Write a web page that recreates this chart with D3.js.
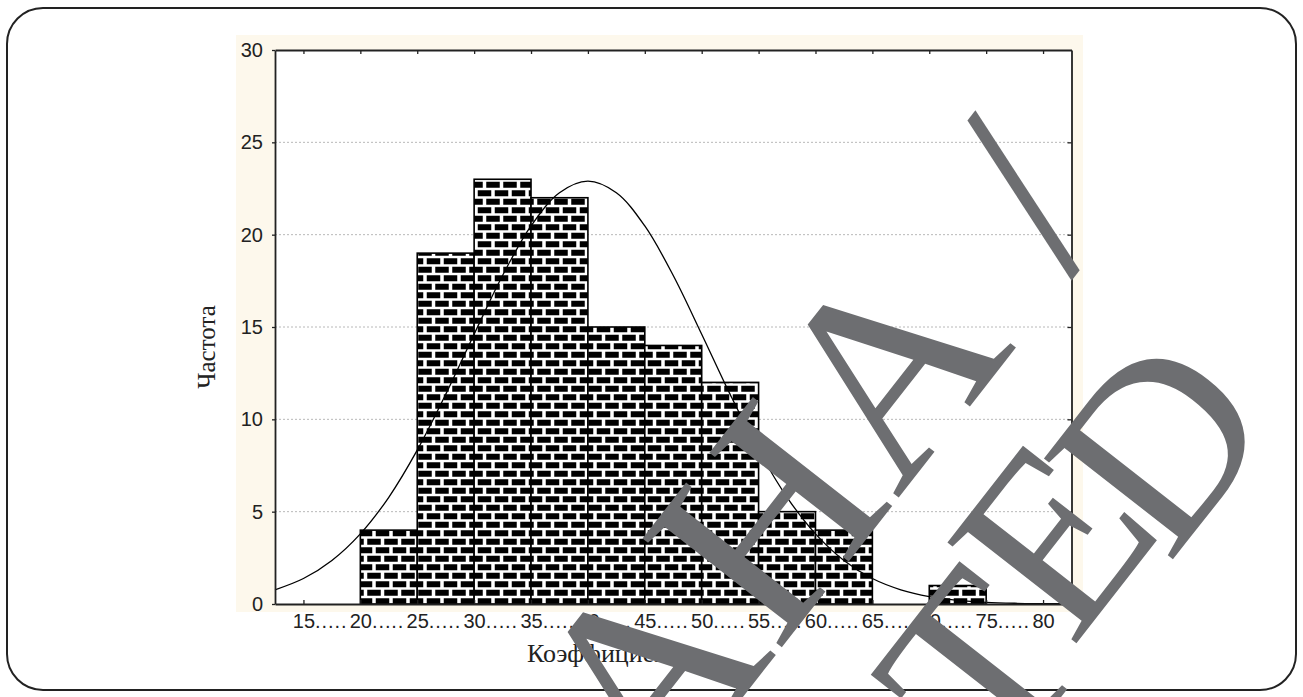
<!DOCTYPE html>
<html>
<head>
<meta charset="utf-8">
<script src="https://cdn.jsdelivr.net/npm/d3@7"></script>
<style>
  html, body { margin: 0; padding: 0; background: #fff; }
  svg { display: block; }
</style>
</head>
<body>
<div id="container"></div>
<script>
// histogram bins (lower edge) and counts
var binStarts = [20, 25, 30, 35, 40, 45, 50, 55, 60, 65, 70],
    counts    = [4, 19, 23, 22, 15, 14, 12, 5, 4, 0, 1],
    binWidth  = 5;

// fitted normal curve
var curveX = [12.5, 15, 17.5, 20, 22.5, 25, 27.5, 30, 32.5, 35, 37.5, 40, 42.5, 45, 47.5, 50,
              52.5, 55, 57.5, 60, 62.5, 65, 67.5, 70, 72.5, 75, 77.5, 80, 82.5],
    curveY = [0.77, 1.38, 2.36, 3.80, 5.78, 8.33, 11.35, 14.61, 17.79, 20.47, 22.27, 22.9, 22.27, 20.47, 17.79, 14.61,
              11.35, 8.33, 5.78, 3.80, 2.36, 1.38, 0.77, 0.40, 0.20, 0.09, 0.04, 0.02, 0.01];

// tick labels
var xTicks = [15, 20, 25, 30, 35, 40, 45, 50, 55, 60, 65, 70, 75, 80],
    xDots  = [".....", ".....", ".....", ".....", ".....", ".....", ".....", ".....", ".....",
              ".....", ".....", ".....", ".....", ""],
    yTicks = [0, 5, 10, 15, 20, 25, 30],
    yGrid  = [5, 10, 15, 20, 25];

var yTitle = "Частота",
    xTitle = "Коэффициент";

var W = 1303, H = 697;
var plot = {left: 275, right: 1071.5, top: 50, bottom: 604};

var svg = d3.select("#container").append("svg")
    .attr("width", W)
    .attr("height", H);

// brick fill
var defs = svg.append("defs");
var pat = defs.append("pattern")
    .attr("id", "bricks")
    .attr("patternUnits", "userSpaceOnUse")
    .attr("x", 0).attr("y", 2)
    .attr("width", 17).attr("height", 17);
pat.append("rect").attr("width", 17).attr("height", 17).attr("fill", "#fff");
pat.append("rect").attr("x", 1.75).attr("y", 1.25).attr("width", 13.5).attr("height", 6).attr("fill", "#000");
pat.append("rect").attr("x", -6.75).attr("y", 9.75).attr("width", 13.5).attr("height", 6).attr("fill", "#000");
pat.append("rect").attr("x", 10.25).attr("y", 9.75).attr("width", 13.5).attr("height", 6).attr("fill", "#000");

// outer rounded frame
svg.append("rect")
    .attr("x", 7).attr("y", 8)
    .attr("width", 1289).attr("height", 682)
    .attr("rx", 36).attr("ry", 36)
    .attr("fill", "none")
    .attr("stroke", "#222")
    .attr("stroke-width", 2);

// cream backdrop and white plot area
svg.append("rect")
    .attr("x", 236).attr("y", 35)
    .attr("width", 847).attr("height", 577)
    .attr("fill", "#fdf8ec");
svg.append("rect")
    .attr("x", plot.left).attr("y", plot.top)
    .attr("width", plot.right - plot.left).attr("height", plot.bottom - plot.top)
    .attr("fill", "#fff");

var xScale = d3.scaleLinear().domain([12.5, 82.5]).range([plot.left, plot.right]);
var yScale = d3.scaleLinear().domain([0, 30]).range([plot.bottom, plot.top]);

// grid
svg.append("g").selectAll("line").data(yGrid).enter().append("line")
    .attr("x1", plot.left).attr("x2", plot.right)
    .attr("y1", d => yScale(d)).attr("y2", d => yScale(d))
    .attr("stroke", "#b8b8b8")
    .attr("stroke-width", 1)
    .attr("stroke-dasharray", "2,2");

// bars
var bins = binStarts.map((s, i) => ({x0: s, x1: s + binWidth, n: counts[i]}));
svg.append("g").selectAll("rect").data(bins.filter(d => d.n > 0)).enter().append("rect")
    .attr("x", d => xScale(d.x0))
    .attr("y", d => yScale(d.n))
    .attr("width", d => xScale(d.x1) - xScale(d.x0))
    .attr("height", d => yScale(0) - yScale(d.n))
    .attr("fill", "url(#bricks)")
    .attr("stroke", "#000")
    .attr("stroke-width", 1.6);

// normal curve
var line = d3.line()
    .x(d => xScale(d[0]))
    .y(d => yScale(d[1]))
    .curve(d3.curveCatmullRom);
svg.append("path")
    .datum(curveX.map((x, i) => [x, curveY[i]]))
    .attr("d", line)
    .attr("fill", "none")
    .attr("stroke", "#000")
    .attr("stroke-width", 1.3);

// axes
var font = "'Liberation Sans', Arial, sans-serif";

var xAxis = svg.append("g")
    .attr("transform", "translate(0," + plot.bottom + ")")
    .call(d3.axisBottom(xScale).tickValues(xTicks).tickSizeInner(-4).tickSizeOuter(0).tickPadding(10));
var topAxis = svg.append("g")
    .attr("transform", "translate(0," + plot.top + ")")
    .call(d3.axisTop(xScale).tickValues(xTicks).tickSizeInner(-4).tickSizeOuter(0).tickFormat(""));
var yAxis = svg.append("g")
    .attr("transform", "translate(" + plot.left + ",0)")
    .call(d3.axisLeft(yScale).tickValues(yTicks).tickSizeInner(3).tickSizeOuter(0).tickPadding(9));
var rightAxis = svg.append("g")
    .attr("transform", "translate(" + plot.right + ",0)")
    .call(d3.axisRight(yScale).tickValues(yGrid).tickSizeInner(-4).tickSizeOuter(0).tickFormat(""));

[xAxis, topAxis, yAxis, rightAxis].forEach(g => {
    g.select(".domain").attr("stroke", "#222").attr("stroke-width", 1.8);
    g.selectAll(".tick line").attr("stroke", "#222").attr("stroke-width", 1.3);
    g.selectAll("text").attr("fill", "#222").style("font-family", font).style("font-size", "20px");
});

// x labels: number centred on the tick, dots trailing after it
xAxis.selectAll(".tick text").each(function(d) {
    var t = d3.select(this);
    var w = this.getComputedTextLength();
    t.attr("text-anchor", "start").attr("x", -w / 2);
    t.append("tspan").style("letter-spacing", "0.9px").text(xDots[xTicks.indexOf(d)]);
});

// titles
svg.append("text")
    .attr("transform", "translate(215,347) rotate(-90)")
    .attr("text-anchor", "middle")
    .style("font-family", "'Liberation Serif', 'Times New Roman', serif")
    .style("font-size", "25px")
    .attr("fill", "#222")
    .text(yTitle);
svg.append("text")
    .attr("x", 527).attr("y", 662)
    .style("font-family", "'Liberation Serif', 'Times New Roman', serif")
    .style("font-size", "26px")
    .attr("fill", "#222")
    .text(xTitle);

// grey stamp over the picture
var stampFont = "'Liberation Serif', 'Times New Roman', serif";
var stamp1 = svg.append("text")
    .attr("transform", "translate(657,807) rotate(-52)")
    .style("font-family", stampFont)
    .style("font-size", "270px")
    .style("white-space", "pre")
    .attr("fill", "#6d6e71");
stamp1.append("tspan").text("AHA");
stamp1.append("tspan").attr("dx", 85).text("/");

var stamp2 = [{c: "T", x: 975, y: 665}, {c: "E", x: 1050, y: 535}, {c: "D", x: 1155, y: 440}];
svg.append("g").selectAll("text").data(stamp2).enter().append("text")
    .attr("transform", d => "translate(" + d.x + "," + d.y + ") rotate(-52)")
    .attr("text-anchor", "middle")
    .attr("dy", "0.35em")
    .style("font-family", stampFont)
    .style("font-size", "250px")
    .attr("fill", "#6d6e71")
    .text(d => d.c);
</script>
</body>
</html>
